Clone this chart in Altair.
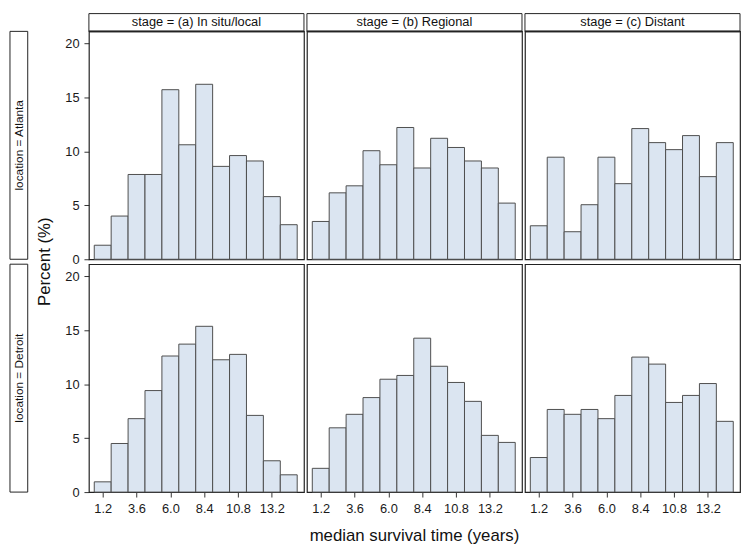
import altair as alt
import pandas as pd

# ---- data ----
bin_centers = [1.2, 2.4, 3.6, 4.8, 6.0, 7.2, 8.4, 9.6, 10.8, 12.0, 13.2, 14.4]
bin_width = 1.2
locations = ["Atlanta", "Detroit"]
stages = ["(a) In situ/local", "(b) Regional", "(c) Distant"]

atl_a = [1.3, 4.0, 7.85, 7.85, 15.7, 10.6, 16.2, 8.6, 9.6, 9.1, 5.8, 3.2]
atl_b = [3.5, 6.15, 6.8, 10.05, 8.75, 12.2, 8.45, 11.2, 10.35, 9.1, 8.45, 5.2]
atl_c = [3.1, 9.45, 2.55, 5.05, 9.45, 7.0, 12.1, 10.8, 10.15, 11.45, 7.65, 10.8]
det_a = [0.95, 4.5, 6.8, 9.4, 12.6, 13.7, 15.35, 12.25, 12.75, 7.1, 2.9, 1.6]
det_b = [2.2, 5.95, 7.2, 8.75, 10.45, 10.8, 14.25, 11.65, 10.15, 8.4, 5.25, 4.6]
det_c = [3.2, 7.65, 7.2, 7.65, 6.8, 8.95, 12.5, 11.85, 8.3, 8.95, 10.05, 6.55]

y_ticks = [0, 5, 10, 15, 20]
x_ticks = [1.2, 3.6, 6.0, 8.4, 10.8, 13.2]

series = {
    ("Atlanta", stages[0]): atl_a,
    ("Atlanta", stages[1]): atl_b,
    ("Atlanta", stages[2]): atl_c,
    ("Detroit", stages[0]): det_a,
    ("Detroit", stages[1]): det_b,
    ("Detroit", stages[2]): det_c,
}

rows = []
for (loc, stg), vals in series.items():
    for i, (c, v) in enumerate(zip(bin_centers, vals)):
        rows.append({"location": loc, "stage": stg, "i": i,
                     "start": c - bin_width / 2, "end": c + bin_width / 2,
                     "pct": v, "base": 0})
df = pd.DataFrame(rows)

W = 218
H = 231
FONT = "Liberation Sans"

base = alt.Chart()

bars = base.mark_bar(fill="#dbe5f1", stroke="#4d4d4d", strokeWidth=1).encode(
    x=alt.X("start:Q", title=None,
            scale=alt.Scale(domain=[0.22, 15.48], nice=False, zero=False),
            axis=alt.Axis(values=x_ticks, format=".1f", domain=False, grid=False,
                          tickSize=5, tickColor="#333", labelPadding=6,
                          labelFontSize=13, labelColor="#1a1a1a", labelFont=FONT)),
    x2="end:Q",
    y=alt.Y("pct:Q", title=None,
            scale=alt.Scale(domain=[0, 21.1], nice=False),
            axis=alt.Axis(values=y_ticks, domain=False, grid=False,
                          tickSize=5, tickColor="#333", labelPadding=5,
                          labelFontSize=13, labelColor="#1a1a1a", labelFont=FONT)),
    y2="base:Q",
)

# column header boxes (top row only)
hdr = base.transform_filter("datum.location == 'Atlanta' && datum.i == 0").transform_calculate(
    label="'stage = ' + datum.stage")
hdr_box = hdr.mark_rect(fill="white", stroke="#222", strokeWidth=1, clip=False).encode(
    x=alt.value(0), x2=alt.value(W), y=alt.value(-18), y2=alt.value(0))
hdr_line = hdr.mark_rule(color="#222", strokeWidth=2, clip=False).encode(
    x=alt.value(0), x2=alt.value(W), y=alt.value(0))
hdr_text = hdr.mark_text(fontSize=13, font=FONT, color="#111", clip=False).encode(
    x=alt.value(W / 2), y=alt.value(-9), text="label:N")

# row header boxes (left column only)
rhdr = base.transform_filter(
    "datum.stage == '(a) In situ/local' && datum.i == 0").transform_calculate(
    label="'location = ' + datum.location")
rhdr_box = rhdr.mark_rect(fill="white", stroke="#222", strokeWidth=1, clip=False).encode(
    x=alt.value(-80), x2=alt.value(-62), y=alt.value(0), y2=alt.value(H))
rhdr_text = rhdr.mark_text(fontSize=12, font=FONT, color="#111", angle=270, clip=False).encode(
    x=alt.value(-71), y=alt.value(H / 2), text="label:N")

# y-axis title (drawn once, between the rows)
ytitle = base.transform_filter(
    "datum.location == 'Atlanta' && datum.stage == '(a) In situ/local' && datum.i == 0"
).mark_text(fontSize=17, font=FONT, color="#111", angle=270, clip=False).encode(
    x=alt.value(-44), y=alt.value(H + 2.5), text=alt.value("Percent (%)"))

# x-axis title (drawn once, under the middle column)
xtitle = base.transform_filter(
    "datum.location == 'Detroit' && datum.stage == '(b) Regional' && datum.i == 0"
).mark_text(fontSize=17, font=FONT, color="#111", clip=False).encode(
    x=alt.value(W / 2), y=alt.value(H + 45), text=alt.value("median survival time (years)"))

layered = alt.layer(bars, hdr_box, hdr_line, hdr_text, rhdr_box, rhdr_text, ytitle, xtitle,
                    data=df).properties(width=W, height=H)

chart = layered.facet(
    row=alt.Row("location:N", header=None, sort=locations),
    column=alt.Column("stage:N", header=None, sort=stages),
    spacing={"row": 5, "column": 3},
).properties(bounds="flush", padding=0, background="white").configure_view(
    stroke="#222", strokeWidth=1.2
)

chart.save("out.html", embed_options={"renderer": "svg", "actions": False})
